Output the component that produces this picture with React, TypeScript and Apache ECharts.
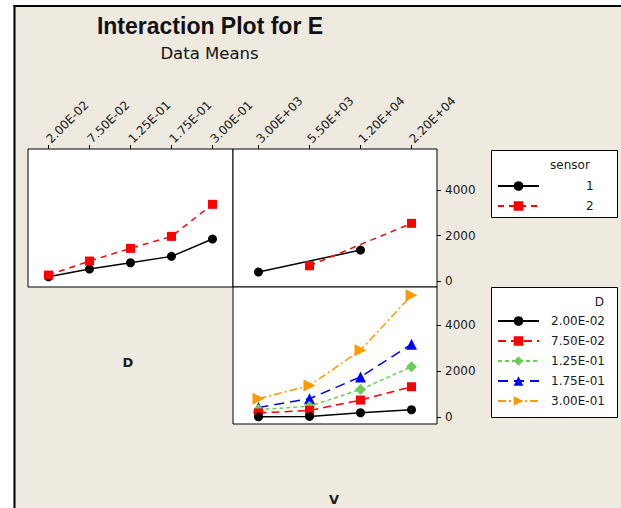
import React, { useEffect, useRef } from "react";
import * as echarts from "echarts";

const D_LABELS = ["2.00E-02", "7.50E-02", "1.25E-01", "1.75E-01", "3.00E-01"];
const V_LABELS = ["3.00E+03", "5.50E+03", "1.20E+04", "2.20E+04"];
const SENSOR_NAMES = ["1", "2"];
const Y_TICKS = [0, 2000, 4000];

// Top-left: mean E by D for each sensor
const sensor1ByD = [190, 527, 805, 1085, 1846];
const sensor2ByD = [264, 879, 1436, 1963, 3370];
// Top-right: mean E by V for each sensor
const sensor1ByV = [396, null, 1363, null];
const sensor2ByV = [null, 673, null, 2535];
// Bottom-right: mean E by V for each D level
const d1ByV = [10, 30, 190, 320];
const d2ByV = [180, 290, 740, 1320];
const d3ByV = [330, 470, 1200, 2190];
const d4ByV = [420, 800, 1750, 3170];
const d5ByV = [800, 1370, 2910, 5300];

const FONT = "DejaVu Sans";
const TXT = "#1a1a1a";
const BEIGE = "#EEEAE0";

export default function App() {
  const ref = useRef<HTMLDivElement>(null);
  useEffect(() => {
    if (!ref.current) return;
    const chart = echarts.init(ref.current, undefined, { renderer: "svg" });

    const gridBase = {
      show: true,
      backgroundColor: "#ffffff",
      borderColor: "#000000",
      borderWidth: 1,
      containLabel: false,
    };
    const topXAxis = (gridIndex: number, data: string[]) => ({
      type: "category",
      gridIndex,
      data,
      position: "top",
      boundaryGap: true,
      axisLine: { show: false, onZero: false },
      axisTick: {
        show: true,
        alignWithLabel: true,
        inside: false,
        length: 4,
        lineStyle: { color: "#000", width: 1 },
      },
      axisLabel: {
        show: true,
        rotate: -45,
        margin: 8,
        interval: 0,
        color: TXT,
        fontFamily: FONT,
        fontSize: 12,
      },
      splitLine: { show: false },
    });
    const hiddenY = (gridIndex: number, min: number, max: number) => ({
      type: "value",
      gridIndex,
      min,
      max,
      axisLine: { show: false, onZero: false },
      axisTick: { show: false },
      axisLabel: { show: false },
      splitLine: { show: false },
    });
    const rightY = (gridIndex: number, min: number, max: number) => ({
      type: "value",
      gridIndex,
      min,
      max,
      position: "right",
      axisLine: { show: false, onZero: false },
      axisTick: {
        show: true,
        inside: false,
        length: 4,
        customValues: Y_TICKS,
        lineStyle: { color: "#000", width: 1 },
      },
      axisLabel: {
        show: true,
        margin: 8,
        customValues: Y_TICKS,
        formatter: (v: number) => String(v),
        color: TXT,
        fontFamily: FONT,
        fontSize: 12,
      },
      splitLine: { show: false },
    });

    const sensorStyles = [
      { color: "#000000", symbol: "circle", size: 9, line: "solid" as any },
      { color: "#ff0000", symbol: "rect", size: 9, line: [6, 5] as any },
    ];
    const dStyles = [
      { color: "#000000", symbol: "circle", size: 9, line: "solid" as any },
      { color: "#ff0000", symbol: "rect", size: 9, line: [8, 5] as any },
      { color: "#6acd5a", symbol: "diamond", size: 11, line: [4, 3] as any },
      { color: "#0000ff", symbol: "triangle", size: 11, line: [10, 6] as any },
      { color: "#ff9a00", symbol: "path://M0,0 L10,5 L0,10 Z", size: 12, line: [8, 3, 2, 3] as any },
    ];

    const mkSeries = (
      name: string,
      data: (number | null)[],
      st: any,
      xi: number,
      yi: number,
      connect = false
    ) => ({
      type: "line",
      name,
      data,
      xAxisIndex: xi,
      yAxisIndex: yi,
      connectNulls: connect,
      symbol: st.symbol,
      symbolSize: st.size,
      showSymbol: true,
      itemStyle: { color: st.color },
      lineStyle: { color: st.color, width: 1.5, type: st.line },
      emphasis: { disabled: true },
    });

    const dSeriesData = [d1ByV, d2ByV, d3ByV, d4ByV, d5ByV];
    const dSeries = D_LABELS.map((n, i) => mkSeries(n, dSeriesData[i], dStyles[i], 2, 2)).reverse();

    const legendBase = {
      orient: "vertical",
      left: 497,
      padding: 0,
      itemWidth: 41,
      itemHeight: 12,
      itemGap: 6,
      selectedMode: false,
    };

    const option: any = {
      animation: false,
      backgroundColor: BEIGE,
      textStyle: { fontFamily: FONT },
      grid: [
        { ...gridBase, left: 28, top: 149, width: 205, height: 138 },
        { ...gridBase, left: 233, top: 149, width: 204, height: 138 },
        { ...gridBase, left: 233, top: 287, width: 204, height: 137 },
      ],
      xAxis: [
        topXAxis(0, D_LABELS),
        topXAxis(1, V_LABELS),
        {
          type: "category",
          gridIndex: 2,
          data: V_LABELS,
          boundaryGap: true,
          axisLine: { show: false, onZero: false },
          axisTick: { show: false },
          axisLabel: { show: false },
          splitLine: { show: false },
        },
      ],
      yAxis: [hiddenY(0, -260, 5800), rightY(1, -260, 5800), rightY(2, -300, 5660)],
      legend: [
        {
          ...legendBase,
          data: SENSOR_NAMES,
          top: 179,
          textStyle: { color: TXT, fontFamily: FONT, fontSize: 12, lineHeight: 14, padding: [0, 0, 0, 42] },
        },
        {
          ...legendBase,
          data: D_LABELS,
          top: 314,
          textStyle: { color: TXT, fontFamily: FONT, fontSize: 12, lineHeight: 14, padding: [0, 0, 0, 7] },
        },
      ],
      graphic: [
        { type: "rect", shape: { x: 0, y: 0, width: 13, height: 508 }, style: { fill: "#ffffff" }, silent: true },
        { type: "rect", shape: { x: 0, y: 0, width: 621, height: 5 }, style: { fill: "#ffffff" }, silent: true },
        { type: "line", shape: { x1: 14.5, y1: 5, x2: 14.5, y2: 508 }, style: { stroke: "#000", lineWidth: 2 }, silent: true },
        { type: "line", shape: { x1: 13.5, y1: 6, x2: 621, y2: 6 }, style: { stroke: "#000", lineWidth: 2 }, silent: true },
        {
          type: "rect",
          shape: { x: 491.5, y: 150.5, width: 126, height: 67 },
          style: { fill: "#ffffff", stroke: "#000", lineWidth: 1 },
          z: -1,
          silent: true,
        },
        {
          type: "rect",
          shape: { x: 491.5, y: 287.5, width: 126, height: 130 },
          style: { fill: "#ffffff", stroke: "#000", lineWidth: 1 },
          z: -1,
          silent: true,
        },
        {
          type: "text",
          x: 210,
          y: 26,
          style: {
            text: "Interaction Plot for E",
            font: "bold 23px 'Liberation Sans'",
            fill: "#111",
            textAlign: "center",
            textVerticalAlign: "middle",
          },
        },
        {
          type: "text",
          x: 209.5,
          y: 53,
          style: {
            text: "Data Means",
            font: "16.5px 'DejaVu Sans'",
            fill: "#111",
            textAlign: "center",
            textVerticalAlign: "middle",
          },
        },
        {
          type: "text",
          x: 570,
          y: 165,
          style: { text: "sensor", font: "12px 'DejaVu Sans'", fill: TXT, textAlign: "center", textVerticalAlign: "middle" },
        },
        {
          type: "text",
          x: 604,
          y: 302,
          style: { text: "D", font: "12px 'DejaVu Sans'", fill: TXT, textAlign: "right", textVerticalAlign: "middle" },
        },
        {
          type: "text",
          x: 128,
          y: 362,
          style: { text: "D", font: "bold 13px 'DejaVu Sans'", fill: TXT, textAlign: "center", textVerticalAlign: "middle" },
        },
        {
          type: "text",
          x: 334,
          y: 499,
          style: { text: "V", font: "bold 13px 'DejaVu Sans'", fill: TXT, textAlign: "center", textVerticalAlign: "middle" },
        },
      ],
      series: [
        mkSeries("1", sensor1ByD, sensorStyles[0], 0, 0),
        mkSeries("2", sensor2ByD, sensorStyles[1], 0, 0),
        mkSeries("1", sensor1ByV, sensorStyles[0], 1, 1, true),
        mkSeries("2", sensor2ByV, sensorStyles[1], 1, 1, true),
        ...dSeries,
      ],
    };
    chart.setOption(option);
    return () => chart.dispose();
  }, []);
  return (
    <div
      ref={ref}
      style={{ position: "absolute", left: 0, top: 0, width: 621, height: 508 }}
    />
  );
}
